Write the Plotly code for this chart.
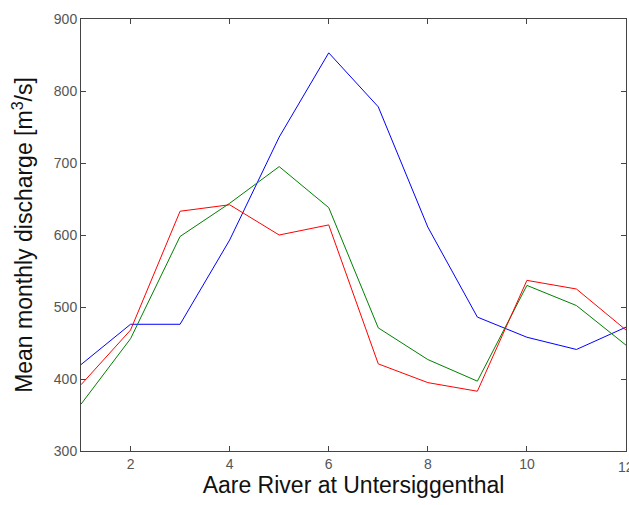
import plotly.graph_objects as go

months = [1, 2, 3, 4, 5, 6, 7, 8, 9, 10, 11, 12]
series_blue = [420, 476, 476, 593, 736, 853, 778, 611, 486, 458, 441, 472]
series_green = [365, 456, 598, 644, 695, 638, 471, 427, 397, 530, 502, 447]
series_red = [392, 468, 633, 642, 600, 614, 421, 395, 383, 537, 525, 468]

x_ticks = [2, 4, 6, 8, 10, 12]
y_ticks = [300, 400, 500, 600, 700, 800, 900]

fig = go.Figure()
for vals, col in [(series_blue, "#0000ff"), (series_green, "#008000"), (series_red, "#ff0000")]:
    fig.add_trace(go.Scatter(x=months, y=vals, mode="lines",
                             line=dict(color=col, width=1), showlegend=False))

font_family = "Liberation Sans, Arial, sans-serif"
tick_font = dict(family=font_family, size=14, color="#555")
axis_common = dict(showline=True, linecolor="#444", linewidth=1, mirror="ticks",
                   ticks="inside", ticklen=5, tickcolor="#444", showgrid=False,
                   zeroline=False, tickfont=tick_font)

# last x tick label sits on the page edge and is cut off as in the reference
x_text = [str(v) for v in x_ticks[:-1]] + [""]
fig.update_xaxes(range=[1, 12], tickvals=x_ticks, ticktext=x_text,
                 title=dict(text="Aare River at Untersiggenthal", standoff=2,
                            font=dict(family=font_family, size=23, color="#111")),
                 **axis_common)
fig.add_annotation(x=x_ticks[-1], xref="x", y=0, yref="paper", yanchor="top",
                   xanchor="center", yshift=-6, text=str(x_ticks[-1]),
                   showarrow=False, font=tick_font)
fig.update_yaxes(range=[300, 900], tickvals=y_ticks, ticktext=[str(v) for v in y_ticks],
                 title=dict(text="Mean monthly discharge [m<sup>3</sup>/s]", standoff=14,
                            font=dict(family=font_family, size=23, color="#111")),
                 **axis_common)

fig.update_layout(width=629, height=505, margin=dict(l=81, r=3, t=19, b=54),
                  plot_bgcolor="white", paper_bgcolor="white")

fig.write_html("out.html")
